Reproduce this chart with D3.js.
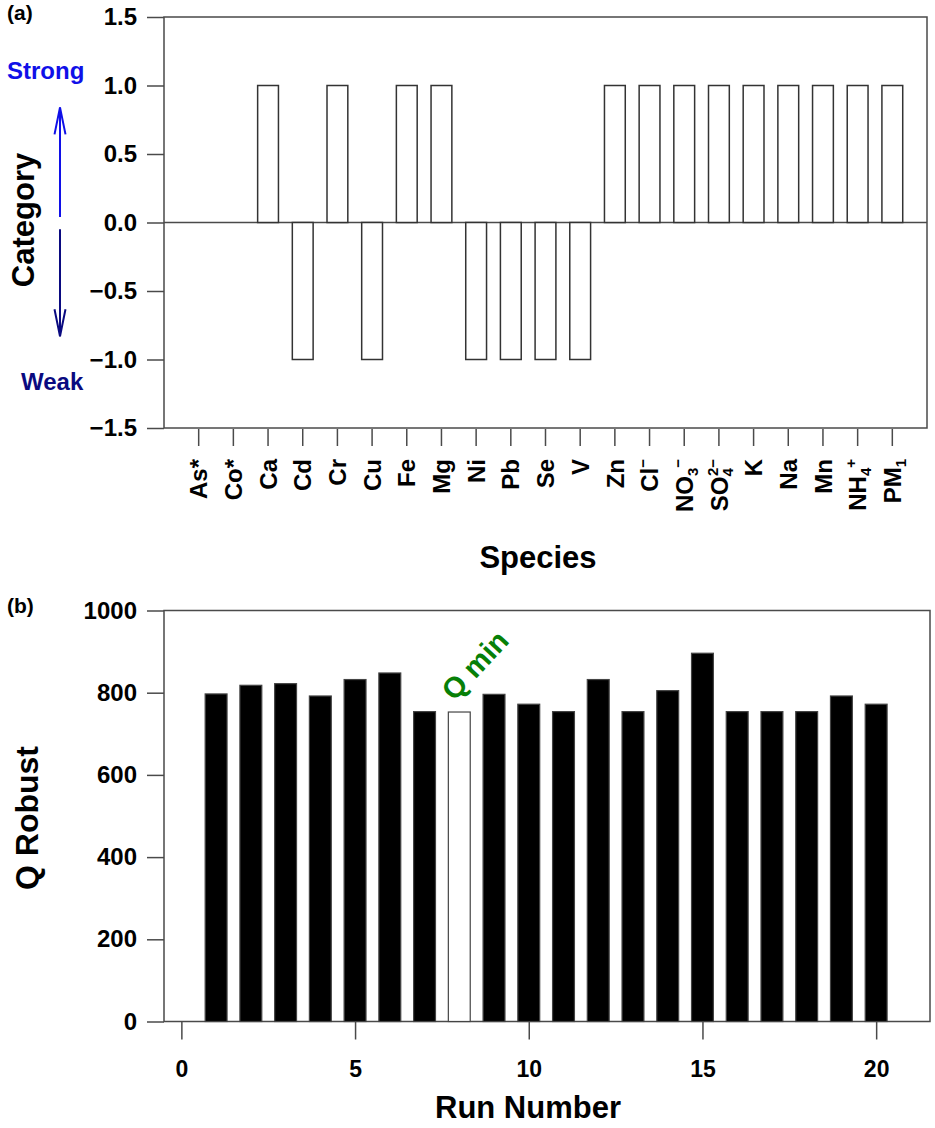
<!DOCTYPE html>
<html>
<head>
<meta charset="utf-8">
<script src="https://cdn.jsdelivr.net/npm/d3@7/dist/d3.min.js"></script>
<style>
  body { margin: 0; background: #fff; }
  svg text { font-family: "Liberation Sans", Arial, Helvetica, sans-serif; font-weight: bold; }
</style>
</head>
<body>
<div id="chart"></div>
<script>
// (a) species categories
const species = ["As*", "Co*", "Ca", "Cd", "Cr", "Cu", "Fe", "Mg", "Ni", "Pb", "Se", "V",
                 "Zn", "Cl-", "NO3-", "SO42-", "K", "Na", "Mn", "NH4+", "PM1"];
const categoryValues = [0, 0, 1, -1, 1, -1, 1, 1, -1, -1, -1, -1, 1, 1, 1, 1, 1, 1, 1, 1, 1];
const categoryTicks = [-1.5, -1.0, -0.5, 0.0, 0.5, 1.0, 1.5];
// labels with sub / superscripts: [base, sub, sup]
const speciesFormat = {
    "Cl-": ["Cl", "", "\u2212"],
    "NO3-": ["NO", "3", "\u2212"],
    "SO42-": ["SO", "4", "2\u2212"],
    "NH4+": ["NH", "4", "+"],
    "PM1": ["PM", "1", ""]
};

// (b) Q robust per run
const runs = [1, 2, 3, 4, 5, 6, 7, 8, 9, 10, 11, 12, 13, 14, 15, 16, 17, 18, 19, 20];
const qRobust = [797, 818, 822, 792, 832, 848, 754, 753, 796, 772, 754, 832, 754, 805, 896, 754, 754, 754, 792, 772];
const qMinRun = 8;
const runTicks = [0, 5, 10, 15, 20];
const qTicks = [0, 200, 400, 600, 800, 1000];

const width = 935, height = 1128;
const frameColor = "#4a4a4a";

const svg = d3.select("#chart").append("svg")
    .attr("width", width).attr("height", height);

function formatNum(d) {
    return d3.format(".1f")(d).replace("-", "\u2212");
}

// ---------- panel (a) ----------
const xA = d3.scaleBand().domain(species).range([164, 927]).paddingInner(0.4).paddingOuter(0.7);
const yA = d3.scaleLinear().domain([-1.5, 1.5]).range([428, 17]);

const gA = svg.append("g").attr("class", "panelA");

gA.append("rect")
    .attr("x", 164).attr("y", yA(1.5))
    .attr("width", 927 - 164).attr("height", yA(-1.5) - yA(1.5))
    .attr("fill", "none").attr("stroke", frameColor).attr("stroke-width", 1.5);

// y axis
const yAxisA = gA.append("g").attr("transform", "translate(164,0)")
    .call(d3.axisLeft(yA).tickValues(categoryTicks).tickSize(17).tickPadding(10).tickFormat(formatNum));
yAxisA.select(".domain").remove();
yAxisA.selectAll("line").attr("stroke", frameColor).attr("stroke-width", 1.5);
yAxisA.selectAll("text").attr("font-size", 24).attr("fill", "#000").style("font-weight", "bold");

// zero line
gA.append("line")
    .attr("x1", 164).attr("x2", 927)
    .attr("y1", yA(0)).attr("y2", yA(0))
    .attr("stroke", frameColor).attr("stroke-width", 1.5);

// bars
gA.selectAll("rect.bar")
    .data(species.map((s, i) => ({ name: s, value: categoryValues[i] })).filter(d => d.value !== 0))
    .enter().append("rect")
    .attr("class", "bar")
    .attr("x", d => xA(d.name))
    .attr("width", xA.bandwidth())
    .attr("y", d => yA(Math.max(0, d.value)))
    .attr("height", d => Math.abs(yA(d.value) - yA(0)))
    .attr("fill", "#fff").attr("stroke", "#333").attr("stroke-width", 1.5);

// x ticks + rotated labels
const xTicksA = gA.append("g").attr("class", "xticks");
species.forEach(s => {
    const cx = xA(s) + xA.bandwidth() / 2;
    xTicksA.append("line")
        .attr("x1", cx).attr("x2", cx).attr("y1", 429).attr("y2", 446)
        .attr("stroke", frameColor).attr("stroke-width", 1.5);
    const t = xTicksA.append("text")
        .attr("transform", "translate(" + cx + ",459) rotate(-90)")
        .attr("text-anchor", "end")
        .attr("dy", "0.36em")
        .attr("font-size", 24).attr("fill", "#000");
    const f = speciesFormat[s];
    if (!f) {
        t.text(s);
    } else {
        t.append("tspan").text(f[0]);
        if (f[1]) t.append("tspan").attr("font-size", 15).attr("dy", 5).text(f[1]);
        if (f[2]) {
            const sup = t.append("tspan").attr("font-size", 15).attr("dy", f[1] ? -15 : -10).text(f[2]);
            if (f[1] && f[2].length > 1) sup.attr("dx", -8);
        }
    }
});

// titles and annotations
gA.append("text").attr("x", 7).attr("y", 20).attr("font-size", 21).text("(a)");
gA.append("text")
    .attr("transform", "translate(34,220) rotate(-90)")
    .attr("text-anchor", "middle").attr("font-size", 31).text("Category");
gA.append("text").attr("x", 538).attr("y", 568)
    .attr("text-anchor", "middle").attr("font-size", 31).text("Species");
gA.append("text").attr("x", 7).attr("y", 79)
    .attr("font-size", 24).attr("fill", "#1010e8").text("Strong");
gA.append("text").attr("x", 21).attr("y", 390)
    .attr("font-size", 24).attr("fill", "#0a0a80").text("Weak");

function drawArrow(g, x, yFrom, yTo, color) {
    const dir = yTo < yFrom ? 1 : -1;
    g.append("line").attr("x1", x).attr("x2", x).attr("y1", yFrom).attr("y2", yTo)
        .attr("stroke", color).attr("stroke-width", 2);
    g.append("path")
        .attr("d", "M" + (x - 5.5) + "," + (yTo + dir * 27) + "L" + x + "," + yTo + "L" + (x + 5.5) + "," + (yTo + dir * 27))
        .attr("fill", "none").attr("stroke", color).attr("stroke-width", 2);
}
drawArrow(gA, 60, yA(0.04), yA(0.84), "#1010e8");
drawArrow(gA, 60, yA(-0.05), yA(-0.83), "#0a0a80");

// ---------- panel (b) ----------
const xB = d3.scaleLinear().domain([-0.5, 21.55]).range([164, 930]);
const yB = d3.scaleLinear().domain([0, 1000]).range([1021.5, 610.5]);
const barW = (xB(1) - xB(0)) * 0.63;

const gB = svg.append("g").attr("class", "panelB");

gB.append("rect")
    .attr("x", 164).attr("y", yB(1000))
    .attr("width", 930 - 164).attr("height", yB(0) - yB(1000))
    .attr("fill", "none").attr("stroke", frameColor).attr("stroke-width", 1.5);

const yAxisB = gB.append("g").attr("transform", "translate(164,0)")
    .call(d3.axisLeft(yB).tickValues(qTicks).tickSize(17).tickPadding(10).tickFormat(d3.format("d")));
yAxisB.select(".domain").remove();
yAxisB.selectAll("line").attr("stroke", frameColor).attr("stroke-width", 1.5);
yAxisB.selectAll("text").attr("font-size", 24).attr("fill", "#000").style("font-weight", "bold");

const xAxisB = gB.append("g").attr("transform", "translate(0," + yB(0) + ")")
    .call(d3.axisBottom(xB).tickValues(runTicks).tickSize(18).tickFormat(d3.format("d")));
xAxisB.select(".domain").remove();
xAxisB.selectAll("line").attr("stroke", frameColor).attr("stroke-width", 1.5);
xAxisB.selectAll("text").attr("font-size", 23).attr("fill", "#000").style("font-weight", "bold")
    .attr("y", 55).attr("dy", 0);

gB.selectAll("rect.bar")
    .data(runs.map((r, i) => ({ run: r, q: qRobust[i] })))
    .enter().append("rect")
    .attr("class", "bar")
    .attr("x", d => xB(d.run) - barW / 2)
    .attr("width", barW)
    .attr("y", d => yB(d.q))
    .attr("height", d => yB(0) - yB(d.q))
    .attr("fill", d => d.run === qMinRun ? "#fff" : "#000")
    .attr("stroke", "#444").attr("stroke-width", 1.2);

gB.append("text").attr("x", 7).attr("y", 613).attr("font-size", 21).text("(b)");
gB.append("text")
    .attr("transform", "translate(38,818) rotate(-90)")
    .attr("text-anchor", "middle").attr("font-size", 32).text("Q Robust");
gB.append("text").attr("x", 528).attr("y", 1118)
    .attr("text-anchor", "middle").attr("font-size", 31).text("Run Number");

// "Q min" label above the minimum run
const qMin = qRobust[runs.indexOf(qMinRun)];
gB.append("text")
    .attr("transform", "translate(" + (xB(qMinRun) - 5) + "," + (yB(qMin) - 10) + ") rotate(-47)")
    .attr("font-size", 29).attr("fill", "#078007").text("Q min");
</script>
</body>
</html>
